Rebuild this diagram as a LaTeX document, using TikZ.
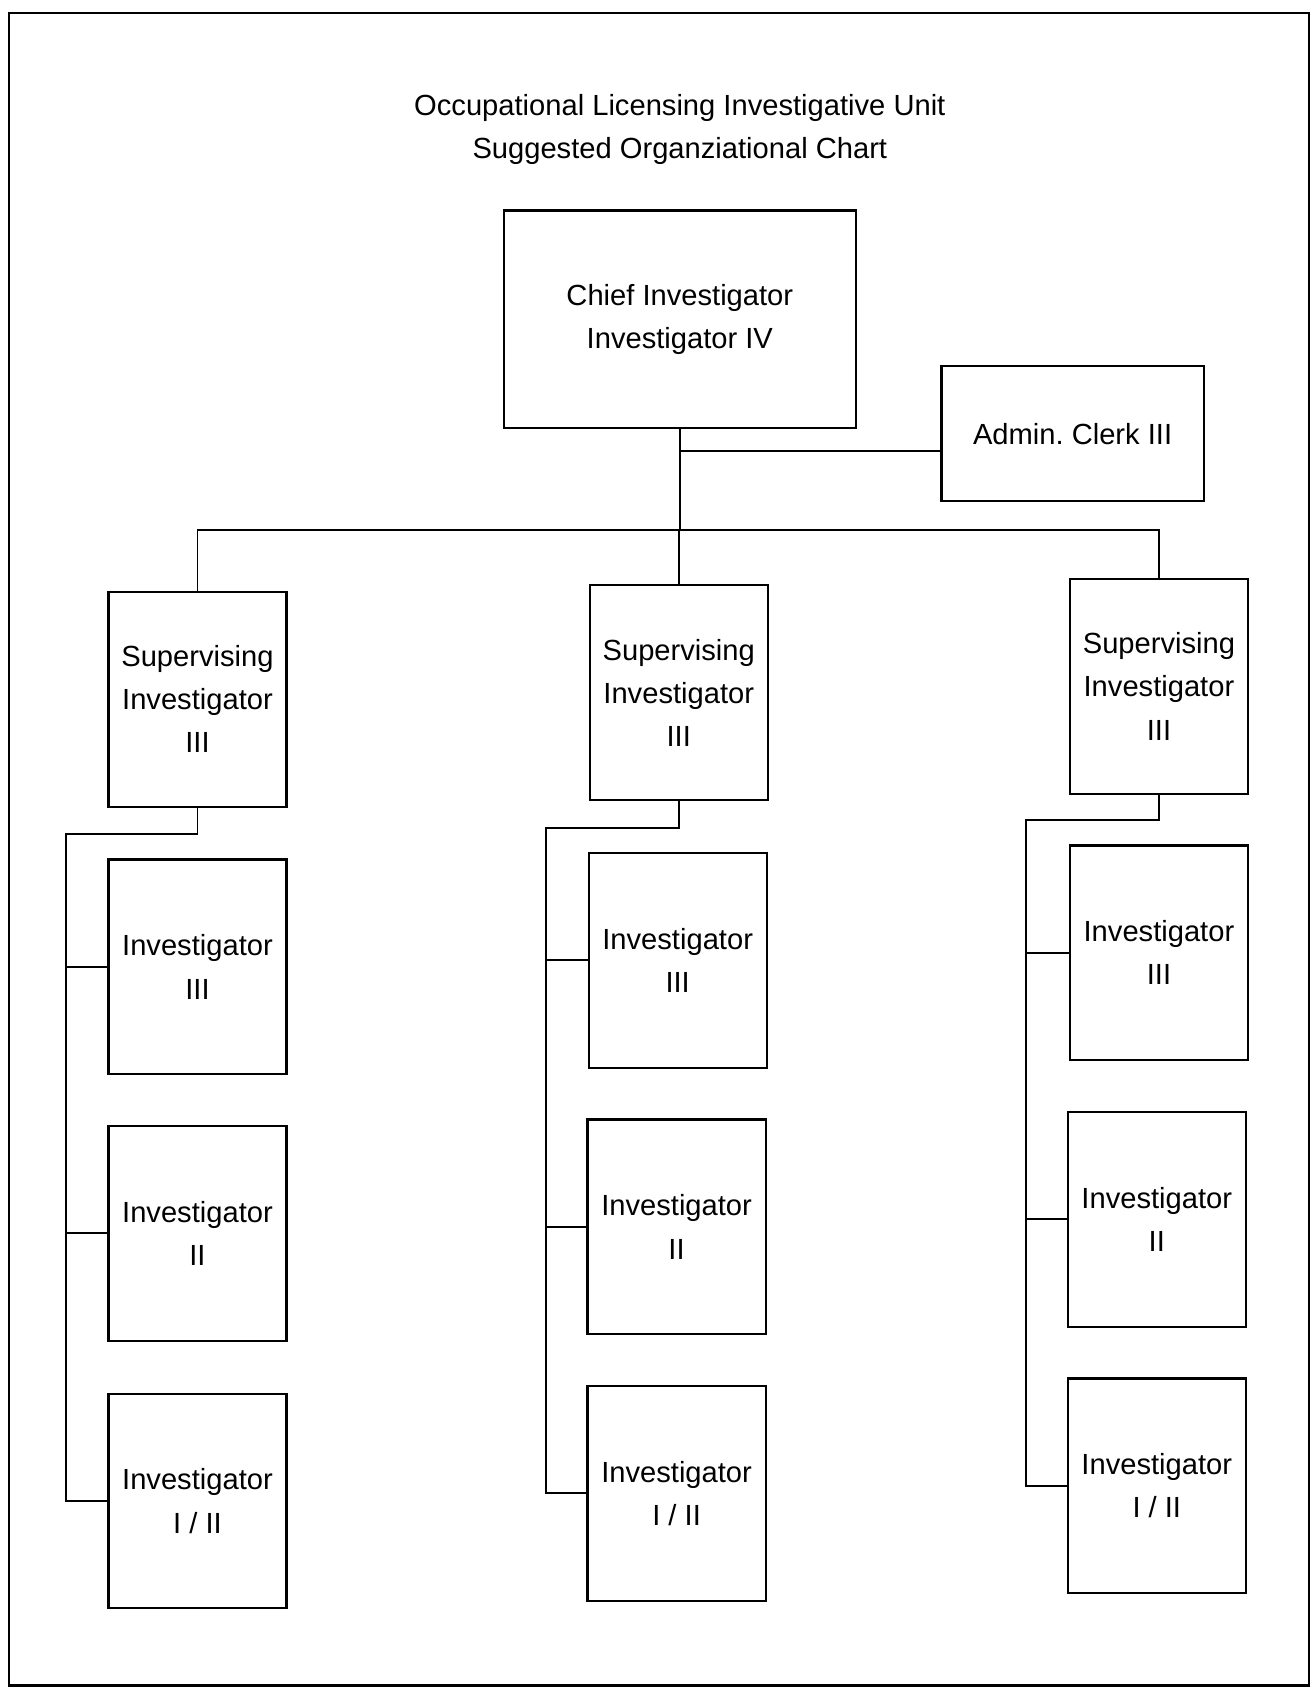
\documentclass[tikz,border=0pt]{standalone}
\usepackage{fontspec}
\setmainfont{Liberation Sans}
\frenchspacing
\begin{document}
\begin{tikzpicture}[x=0.5pt,y=-0.5pt,
  txt/.style={font=\fontsize{13.5}{20}\selectfont, align=center, inner sep=0pt},
  box/.style={txt, draw, line width=1pt, minimum width=82.5pt, minimum height=99.5pt},
  conn/.style={line width=0.9pt}]
\useasboundingbox (0,0) rectangle (1218,1568);
\draw[line width=1pt] (8,12) rectangle (1213,1562);

\node[txt, font=\fontsize{13.5}{19.5}\selectfont] (title) at (630,120)
  {Occupational Licensing Investigative Unit\\Suggested Organziational Chart};

\node[box, minimum width=163pt, minimum height=101pt] (chief) at (630,296)
  {Chief Investigator\\Investigator IV};
\node[box, minimum width=121.5pt, minimum height=62.5pt] (admin) at (994,402)
  {Admin. Clerk III};

% supervising boxes
\node[box] (supL) at (183,648) {Supervising\\Investigator\\III};
\node[box] (supM) at (629,642) {Supervising\\Investigator\\III};
\node[box] (supR) at (1074,636) {Supervising\\Investigator\\III};

% left column
\node[box] (i3L) at (183,896) {Investigator\\III};
\node[box] (i2L) at (183,1143) {Investigator\\II};
\node[box] (i1L) at (183,1391) {Investigator\\I / II};
% middle column
\node[box] (i3M) at (628,890) {Investigator\\III};
\node[box] (i2M) at (627,1137) {Investigator\\II};
\node[box] (i1M) at (627,1384) {Investigator\\I / II};
% right column
\node[box] (i3R) at (1074,883) {Investigator\\III};
\node[box] (i2R) at (1072,1130) {Investigator\\II};
\node[box] (i1R) at (1072,1377) {Investigator\\I / II};

% top connectors
\coordinate (ja) at (630,418);
\coordinate (jb) at (630,491);
\draw[conn] (chief.south) -- (jb);
\draw[conn] (ja) -- (ja -| admin.west);
\draw[conn] (supL.north) |- (jb) -| (supR.north);
\draw[conn] (jb) -| (supM.north);

% side trunks
\coordinate (tL) at (61,773);
\coordinate (tM) at (506,767);
\coordinate (tR) at (951,760);
\draw[conn] (supL.south) |- (tL) |- (i1L.west);
\draw[conn] (tL) |- (i3L.west);
\draw[conn] (tL) |- (i2L.west);
\draw[conn] (supM.south) |- (tM) |- (i1M.west);
\draw[conn] (tM) |- (i3M.west);
\draw[conn] (tM) |- (i2M.west);
\draw[conn] (supR.south) |- (tR) |- (i1R.west);
\draw[conn] (tR) |- (i3R.west);
\draw[conn] (tR) |- (i2R.west);
\end{tikzpicture}
\end{document}
